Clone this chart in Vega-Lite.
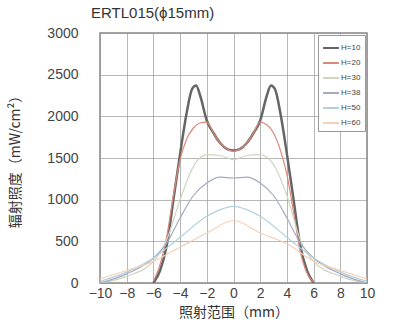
{
  "$schema": "https://vega.github.io/schema/vega-lite/v6.json",
  "autosize": "none",
  "width": 267,
  "height": 250,
  "padding": {"left": 100, "top": 33, "right": 32, "bottom": 39},
  "background": "white",
  "title": {"text": "ERTL015(ϕ15mm)", "anchor": "start", "frame": "group", "fontSize": 15, "fontWeight": "normal", "font": "Liberation Sans", "color": "#333", "offset": 5, "dx": -9},
  "datasets": {
    "curves": [
      {"h": "H=10", "x": -6, "v": 0}, {"h": "H=10", "x": -5.5, "v": 150}, {"h": "H=10", "x": -5, "v": 450}, {"h": "H=10", "x": -4.5, "v": 1000}, {"h": "H=10", "x": -4, "v": 1550}, {"h": "H=10", "x": -3.5, "v": 2050}, {"h": "H=10", "x": -3.1, "v": 2330}, {"h": "H=10", "x": -2.8, "v": 2370}, {"h": "H=10", "x": -2.5, "v": 2250}, {"h": "H=10", "x": -2, "v": 1950}, {"h": "H=10", "x": -1.5, "v": 1800}, {"h": "H=10", "x": -1, "v": 1680}, {"h": "H=10", "x": -0.5, "v": 1610}, {"h": "H=10", "x": 0, "v": 1590}, {"h": "H=10", "x": 0.5, "v": 1610}, {"h": "H=10", "x": 1, "v": 1680}, {"h": "H=10", "x": 1.5, "v": 1800}, {"h": "H=10", "x": 2, "v": 1950}, {"h": "H=10", "x": 2.5, "v": 2250}, {"h": "H=10", "x": 2.8, "v": 2370}, {"h": "H=10", "x": 3.1, "v": 2330}, {"h": "H=10", "x": 3.5, "v": 2050}, {"h": "H=10", "x": 4, "v": 1550}, {"h": "H=10", "x": 4.5, "v": 1000}, {"h": "H=10", "x": 5, "v": 450}, {"h": "H=10", "x": 5.5, "v": 150}, {"h": "H=10", "x": 6, "v": 0},
      {"h": "H=20", "x": -6, "v": 20}, {"h": "H=20", "x": -5.5, "v": 220}, {"h": "H=20", "x": -5, "v": 560}, {"h": "H=20", "x": -4.5, "v": 1050}, {"h": "H=20", "x": -4, "v": 1480}, {"h": "H=20", "x": -3.5, "v": 1730}, {"h": "H=20", "x": -3, "v": 1860}, {"h": "H=20", "x": -2.5, "v": 1920}, {"h": "H=20", "x": -2, "v": 1930}, {"h": "H=20", "x": -1.5, "v": 1800}, {"h": "H=20", "x": -1, "v": 1680}, {"h": "H=20", "x": -0.5, "v": 1610}, {"h": "H=20", "x": 0, "v": 1580}, {"h": "H=20", "x": 0.5, "v": 1610}, {"h": "H=20", "x": 1, "v": 1680}, {"h": "H=20", "x": 1.5, "v": 1800}, {"h": "H=20", "x": 2, "v": 1930}, {"h": "H=20", "x": 2.5, "v": 1900}, {"h": "H=20", "x": 3, "v": 1800}, {"h": "H=20", "x": 3.5, "v": 1600}, {"h": "H=20", "x": 4, "v": 1300}, {"h": "H=20", "x": 4.5, "v": 850}, {"h": "H=20", "x": 5, "v": 380}, {"h": "H=20", "x": 5.5, "v": 120}, {"h": "H=20", "x": 6, "v": 10},
      {"h": "H=30", "x": -10, "v": 0}, {"h": "H=30", "x": -8, "v": 80}, {"h": "H=30", "x": -6, "v": 260}, {"h": "H=30", "x": -5, "v": 520}, {"h": "H=30", "x": -4, "v": 1000}, {"h": "H=30", "x": -3, "v": 1400}, {"h": "H=30", "x": -2, "v": 1540}, {"h": "H=30", "x": -1, "v": 1530}, {"h": "H=30", "x": 0, "v": 1480}, {"h": "H=30", "x": 1, "v": 1530}, {"h": "H=30", "x": 2, "v": 1540}, {"h": "H=30", "x": 3, "v": 1420}, {"h": "H=30", "x": 4, "v": 1050}, {"h": "H=30", "x": 5, "v": 520}, {"h": "H=30", "x": 6, "v": 260}, {"h": "H=30", "x": 8, "v": 80}, {"h": "H=30", "x": 10, "v": 0},
      {"h": "H=38", "x": -10, "v": 0}, {"h": "H=38", "x": -8, "v": 110}, {"h": "H=38", "x": -6, "v": 300}, {"h": "H=38", "x": -5, "v": 480}, {"h": "H=38", "x": -4, "v": 780}, {"h": "H=38", "x": -3, "v": 1050}, {"h": "H=38", "x": -2, "v": 1200}, {"h": "H=38", "x": -1, "v": 1270}, {"h": "H=38", "x": 0, "v": 1260}, {"h": "H=38", "x": 1, "v": 1270}, {"h": "H=38", "x": 2, "v": 1200}, {"h": "H=38", "x": 3, "v": 1050}, {"h": "H=38", "x": 4, "v": 780}, {"h": "H=38", "x": 5, "v": 480}, {"h": "H=38", "x": 6, "v": 300}, {"h": "H=38", "x": 8, "v": 110}, {"h": "H=38", "x": 10, "v": 0},
      {"h": "H=50", "x": -10, "v": 20}, {"h": "H=50", "x": -8, "v": 130}, {"h": "H=50", "x": -6, "v": 300}, {"h": "H=50", "x": -4, "v": 550}, {"h": "H=50", "x": -2, "v": 800}, {"h": "H=50", "x": -1, "v": 880}, {"h": "H=50", "x": 0, "v": 920}, {"h": "H=50", "x": 1, "v": 880}, {"h": "H=50", "x": 2, "v": 800}, {"h": "H=50", "x": 4, "v": 550}, {"h": "H=50", "x": 6, "v": 300}, {"h": "H=50", "x": 8, "v": 130}, {"h": "H=50", "x": 10, "v": 20},
      {"h": "H=60", "x": -10, "v": 50}, {"h": "H=60", "x": -8, "v": 150}, {"h": "H=60", "x": -6, "v": 260}, {"h": "H=60", "x": -4, "v": 430}, {"h": "H=60", "x": -2, "v": 600}, {"h": "H=60", "x": 0, "v": 750}, {"h": "H=60", "x": 2, "v": 600}, {"h": "H=60", "x": 4, "v": 470}, {"h": "H=60", "x": 6, "v": 260}, {"h": "H=60", "x": 8, "v": 150}, {"h": "H=60", "x": 10, "v": 50}
    ]
  },
  "data": {"name": "curves"},
  "mark": {"type": "line", "interpolate": "monotone", "clip": true},
  "encoding": {
    "x": {"field": "x", "type": "quantitative", "scale": {"domain": [-10, 10], "nice": false},
      "axis": {"values": [-10, -8, -6, -4, -2, 0, 2, 4, 6, 8, 10], "format": "d", "labelOverlap": false, "labelFlush": false, "title": "照射范围（mm）", "titleFontSize": 14, "titleFontWeight": "normal", "titleFont": "Noto Sans CJK SC", "titleColor": "#333", "titlePadding": 5, "labelFontSize": 14, "labelFont": "Liberation Sans", "labelColor": "#444", "labelPadding": 3, "ticks": false, "domain": false, "gridColor": "#999", "gridOpacity": 0.7}},
    "y": {"field": "v", "type": "quantitative", "scale": {"domain": [0, 3000], "nice": false},
      "axis": {"values": [0, 500, 1000, 1500, 2000, 2500, 3000], "format": "d", "labelOverlap": false, "labelFlush": false, "title": "辐射照度（mW/cm²）", "titleFontSize": 14, "titleFontWeight": "normal", "titleFont": "Noto Sans CJK SC", "titleColor": "#333", "titlePadding": 24, "labelFontSize": 14, "labelFont": "Liberation Sans", "labelColor": "#444", "labelPadding": 22, "ticks": false, "domain": false, "gridColor": "#999", "gridOpacity": 0.7}},
    "color": {"field": "h", "type": "nominal",
      "scale": {"domain": ["H=10", "H=20", "H=30", "H=38", "H=50", "H=60"], "range": ["#666666", "#dc8878", "#cfd6bf", "#a4aac6", "#b2d0db", "#f5d0b4"]},
      "legend": {"title": null, "orient": "top-right", "offset": 2, "labelFontSize": 8, "labelFont": "Liberation Sans", "labelColor": "#444", "symbolType": "stroke", "symbolSize": 250, "symbolStrokeWidth": 2, "rowPadding": 2, "padding": 4, "strokeColor": "#999", "fillColor": "white", "labelOffset": 1}},
    "strokeWidth": {"condition": {"test": "datum.h === 'H=10'", "value": 2.5}, "value": 1.2}
  },
  "config": {"view": {"stroke": "#888", "strokeWidth": 1.5}}
}
